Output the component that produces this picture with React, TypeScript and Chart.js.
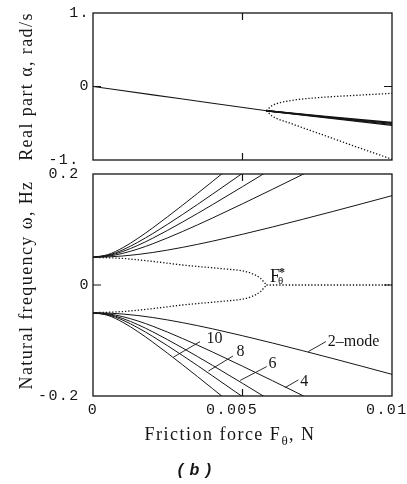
import { useEffect, useRef } from "react";
import { Chart, registerables } from "chart.js";

Chart.register(...registerables);

// ---------------- top panel: real part α (rad/s) ----------------
const alphaTrunkF = [0, 0.002, 0.004, 0.0058];
const alphaTrunk = [0, -0.114, -0.227, -0.33];
const alphaBandF = [0.0058, 0.01];
const alphaBand1 = [-0.33, -0.49];
const alphaBand2 = [-0.33, -0.503];
const alphaBand3 = [-0.33, -0.516];
const alphaBand4 = [-0.33, -0.53];
const alphaSplitF = [0.0058, 0.0059, 0.006, 0.0066, 0.0077, 0.0088, 0.01];
const alphaSplitUpper = [-0.33, -0.29, -0.258, -0.193, -0.147, -0.12, -0.093];
const alphaSplitLower = [-0.33, -0.37, -0.405, -0.5, -0.66, -0.82, -0.99];
const alphaTickValues = [-1, 0, 1];
const alphaTickLabels = ["-1.", "0", "1."];

// ---------------- bottom panel: natural frequency ω (Hz) ----------------
const freqF = [0, 0.0005, 0.001, 0.0015, 0.002, 0.003, 0.004, 0.005, 0.006, 0.007, 0.008, 0.009, 0.01];
const mode2Up = [0.05, 0.0506, 0.0523, 0.055, 0.0586, 0.0679, 0.079, 0.0914, 0.1045, 0.1182, 0.1322, 0.1465, 0.161];
const mode4Up = [0.05, 0.0519, 0.0571, 0.0648, 0.0743, 0.0965, 0.1208, 0.1463, 0.1724, 0.1989, 0.2256];
const mode6Up = [0.05, 0.0528, 0.0605, 0.0714, 0.0844, 0.1136, 0.1449, 0.1772, 0.21];
const mode8Up = [0.05, 0.0537, 0.0634, 0.077, 0.0927, 0.1272, 0.1638, 0.2013, 0.2393];
const mode10Up = [0.05, 0.0548, 0.0673, 0.084, 0.103, 0.144, 0.1868, 0.2305];
const mode2Down = [-0.05, -0.0506, -0.0523, -0.055, -0.0586, -0.0679, -0.079, -0.0914, -0.1045, -0.1182, -0.1322, -0.1465, -0.161];
const mode4Down = [-0.05, -0.0519, -0.0571, -0.0648, -0.0743, -0.0965, -0.1208, -0.1463, -0.1724, -0.1989, -0.2256];
const mode6Down = [-0.05, -0.0528, -0.0605, -0.0714, -0.0844, -0.1136, -0.1449, -0.1772, -0.21];
const mode8Down = [-0.05, -0.0537, -0.0634, -0.077, -0.0927, -0.1272, -0.1638, -0.2013, -0.2393];
const mode10Down = [-0.05, -0.0548, -0.0673, -0.084, -0.103, -0.144, -0.1868, -0.2305];
const coalesceF = [0, 0.001, 0.002, 0.003, 0.004, 0.0045, 0.005, 0.0053, 0.0056, 0.0058];
const coalesceUp = [0.05, 0.0478, 0.0425, 0.036, 0.031, 0.0285, 0.0255, 0.021, 0.012, 0];
const coalesceDown = [-0.05, -0.0478, -0.0425, -0.036, -0.031, -0.0285, -0.0255, -0.021, -0.012, 0];
const zeroF = [0.0058, 0.01];
const zeroW = [0, 0];
const freqTickValues = [-0.2, 0, 0.2];
const freqTickLabels = ["-0.2", "0", "0.2"];

// x axis
const xTickValues = [0, 0.005, 0.01];
const xTickLabels = ["0", "0.005", "0.01"];

// annotations (data coordinates)
const modeLabels = ["10", "8", "6", "4", "2\u2013mode"];
const leaderFromF = [0.00269, 0.00386, 0.00492, 0.00642, 0.0072];
const leaderFromW = [-0.13, -0.155, -0.172, -0.185, -0.12];
const leaderToF = [0.00358, 0.00468, 0.00581, 0.00687, 0.00779];
const leaderToW = [-0.102, -0.128, -0.147, -0.171, -0.102];
const labelF = [0.0038, 0.0048, 0.00587, 0.00693, 0.00785];
const labelW = [-0.097, -0.121, -0.142, -0.175, -0.102];
const fStarF = 0.00592;
const fStarW = 0.0054;

const INK = "#151515";
const MONO = '"Liberation Mono", "Courier New", monospace';
const SERIF = '"Liberation Serif", "Times New Roman", serif';

function pts(xs: number[], ys: number[]) {
  return ys.map((y, i) => ({ x: xs[i], y }));
}
function solid(xs: number[], ys: number[], w = 1) {
  return {
    data: pts(xs, ys),
    borderColor: INK,
    borderWidth: w,
    pointRadius: 0,
    fill: false,
    cubicInterpolationMode: "monotone" as const,
  };
}
function dotted(xs: number[], ys: number[]) {
  return { ...solid(xs, ys, 1.3), borderDash: [1.3, 1.9] };
}

function framePlugin(innerX: number[], innerY: number[]) {
  return {
    id: "frame",
    beforeDraw(chart: any) {
      chart.ctx.letterSpacing = "1.4px";
    },
    afterDraw(chart: any) {
      const { ctx, chartArea: a, scales } = chart;
      ctx.save();
      ctx.letterSpacing = "0px";
      ctx.strokeStyle = INK;
      ctx.lineWidth = 1.3;
      ctx.strokeRect(a.left, a.top, a.right - a.left, a.bottom - a.top);
      ctx.lineWidth = 1.2;
      ctx.beginPath();
      for (const v of innerX) {
        const px = scales.x.getPixelForValue(v);
        ctx.moveTo(px, a.top);
        ctx.lineTo(px, a.top + 7);
        ctx.moveTo(px, a.bottom);
        ctx.lineTo(px, a.bottom - 7);
      }
      for (const v of innerY) {
        const py = scales.y.getPixelForValue(v);
        ctx.moveTo(a.left, py);
        ctx.lineTo(a.left + 8, py);
        ctx.moveTo(a.right, py);
        ctx.lineTo(a.right - 8, py);
      }
      ctx.stroke();
      ctx.restore();
      ctx.letterSpacing = "0px";
    },
  };
}

const annotationPlugin = {
  id: "modeLabels",
  afterDatasetsDraw(chart: any) {
    const { ctx, scales } = chart;
    const X = (v: number) => scales.x.getPixelForValue(v);
    const Y = (v: number) => scales.y.getPixelForValue(v);
    ctx.save();
    ctx.letterSpacing = "0px";
    ctx.strokeStyle = INK;
    ctx.fillStyle = INK;
    ctx.lineWidth = 0.9;
    ctx.beginPath();
    for (let i = 0; i < modeLabels.length; i++) {
      ctx.moveTo(X(leaderFromF[i]), Y(leaderFromW[i]));
      ctx.lineTo(X(leaderToF[i]), Y(leaderToW[i]));
    }
    ctx.stroke();
    ctx.font = `16px ${SERIF}`;
    ctx.textAlign = "left";
    ctx.textBaseline = "middle";
    for (let i = 0; i < modeLabels.length; i++) {
      ctx.fillText(modeLabels[i], X(labelF[i]), Y(labelW[i]));
    }
    // F_θ* label
    const fx = X(fStarF);
    const fy = Y(fStarW);
    ctx.textBaseline = "alphabetic";
    ctx.font = `18px ${SERIF}`;
    ctx.fillText("F", fx, fy);
    ctx.font = `11px ${SERIF}`;
    ctx.fillText("\u03b8", fx + 8, fy + 2);
    ctx.font = `bold 12px ${SERIF}`;
    ctx.fillText("*", fx + 9, fy - 6);
    ctx.restore();
  },
};

function yAxis(min: number, max: number, values: number[], labels: string[], title: string, pads: string[]) {
  return {
    type: "linear" as const,
    min,
    max,
    afterBuildTicks: (scale: any) => {
      scale.ticks = values.map((v) => ({ value: v }));
    },
    afterFit: (scale: any) => {
      scale.width = 93;
      scale.paddingTop = 0;
      scale.paddingBottom = 0;
    },
    grid: { display: false, drawTicks: false },
    border: { display: false },
    ticks: {
      padding: 3,
      color: INK,
      font: { family: MONO, size: 15 },
      autoSkip: false,
      callback: (_v: any, i: number) => labels[i] + pads[i],
    },
    title: {
      display: true,
      text: title,
      color: INK,
      font: { family: SERIF, size: 18 },
      padding: { top: 16, bottom: 0 },
    },
  };
}

function xAxis(show: boolean) {
  return {
    type: "linear" as const,
    min: 0,
    max: 0.01,
    display: show,
    afterBuildTicks: (scale: any) => {
      scale.ticks = xTickValues.map((v) => ({ value: v }));
    },
    afterFit: (scale: any) => {
      if (show) scale.height = 88;
      scale.paddingLeft = 0;
      scale.paddingRight = 0;
    },
    grid: { display: false, drawTicks: false },
    border: { display: false },
    ticks: {
      padding: 5,
      color: INK,
      maxRotation: 0,
      autoSkip: false,
      font: { family: MONO, size: 15 },
      callback: (_v: any, i: number) => xTickLabels[i] + ["", "  ", " "][i],
    },
  };
}

export default function App() {
  const topRef = useRef<HTMLCanvasElement | null>(null);
  const botRef = useRef<HTMLCanvasElement | null>(null);

  useEffect(() => {
    const top = new Chart(topRef.current as HTMLCanvasElement, {
      type: "line",
      data: {
        datasets: [
          solid(alphaTrunkF, alphaTrunk, 1.1),
          solid(alphaBandF, alphaBand1, 1.3),
          solid(alphaBandF, alphaBand2, 1.3),
          solid(alphaBandF, alphaBand3, 1.3),
          solid(alphaBandF, alphaBand4, 1.3),
          dotted(alphaSplitF, alphaSplitUpper),
          dotted(alphaSplitF, alphaSplitLower),
        ] as any,
      },
      options: {
        responsive: false,
        maintainAspectRatio: false,
        animation: false,
        devicePixelRatio: 1,
        layout: { autoPadding: false, padding: { top: 13, right: 15, bottom: 7, left: 0 } },
        plugins: { legend: { display: false }, tooltip: { enabled: false } },
        scales: {
          x: xAxis(false),
          y: yAxis(-1, 1, alphaTickValues, alphaTickLabels, "Real part \u03b1, rad/s", [" ", "", ""]),
        } as any,
      },
      plugins: [framePlugin([0.005], [0])],
    });

    const bot = new Chart(botRef.current as HTMLCanvasElement, {
      type: "line",
      data: {
        datasets: [
          solid(freqF, mode2Up),
          solid(freqF, mode4Up),
          solid(freqF, mode6Up),
          solid(freqF, mode8Up),
          solid(freqF, mode10Up),
          solid(freqF, mode2Down),
          solid(freqF, mode4Down),
          solid(freqF, mode6Down),
          solid(freqF, mode8Down),
          solid(freqF, mode10Down),
          dotted(coalesceF, coalesceUp),
          dotted(coalesceF, coalesceDown),
          dotted(zeroF, zeroW),
        ] as any,
      },
      options: {
        responsive: false,
        maintainAspectRatio: false,
        animation: false,
        devicePixelRatio: 1,
        layout: { autoPadding: false, padding: { top: 7, right: 15, bottom: 0, left: 0 } },
        plugins: { legend: { display: false }, tooltip: { enabled: false } },
        scales: {
          x: xAxis(true),
          y: yAxis(-0.2, 0.2, freqTickValues, freqTickLabels, "Natural frequency \u03c9, Hz", [" ", "", " "]),
        } as any,
      },
      plugins: [framePlugin([0.005], [0]), annotationPlugin],
    });

    return () => {
      top.destroy();
      bot.destroy();
    };
  }, []);

  return (
    <div style={{ position: "absolute", left: 0, top: 0, width: 407, height: 484, background: "#fff", overflow: "hidden" }}>
      <canvas ref={topRef} width={407} height={167} style={{ position: "absolute", left: 0, top: 0 }} />
      <canvas ref={botRef} width={407} height={317} style={{ position: "absolute", left: 0, top: 167 }} />
      <div
        style={{
          position: "absolute",
          left: 230,
          top: 424,
          transform: "translateX(-50%)",
          whiteSpace: "nowrap",
          fontFamily: SERIF,
          fontSize: 18,
          lineHeight: "20px",
          letterSpacing: "1.5px",
          color: INK,
        }}
      >
        Friction force F<span style={{ fontSize: 13, verticalAlign: "-5px" }}>θ</span>, N
      </div>
      <div
        style={{
          position: "absolute",
          left: 195,
          top: 461,
          transform: "translateX(-50%)",
          whiteSpace: "nowrap",
          fontFamily: '"Liberation Sans", Arial, sans-serif',
          fontWeight: "bold",
          fontStyle: "italic",
          fontSize: 16,
          lineHeight: "18px",
          letterSpacing: "1px",
          color: INK,
        }}
      >
        ( b )
      </div>
    </div>
  );
}
